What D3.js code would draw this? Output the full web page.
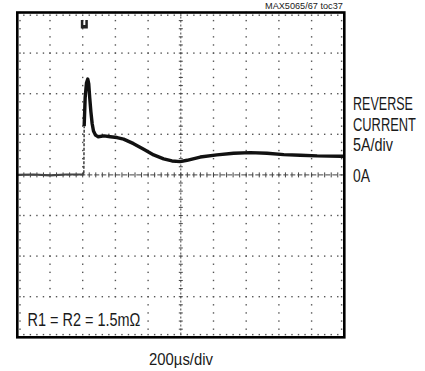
<!DOCTYPE html>
<html>
<head>
<meta charset="utf-8">
<script src="https://cdn.jsdelivr.net/npm/d3@7/dist/d3.min.js"></script>
<style>
  html, body { margin: 0; padding: 0; background: #fff; }
  svg { display: block; }
  text { font-family: "Liberation Sans Narrow", "Liberation Sans", Arial, sans-serif; fill: #1a1a1a; }
</style>
</head>
<body>
<svg id="chart" width="425" height="371"></svg>
<script>
// Reverse-current waveform, 200 µs/div horizontally, 5 A/div vertically
const timeUs   = [0, 100, 200, 300, 400, 407, 409, 415, 423, 431, 437, 443, 450, 458, 466, 478, 495, 530, 569, 610, 650, 711, 773, 834, 895, 946, 997, 1038, 1119, 1221, 1323, 1425, 1527, 1630, 1731, 1834, 1976, 2000];
const currentA = [0, 0.05, -0.05, 0.05, 0.05, 0.2, 6.0, 9.5, 11.3, 11.8, 11.2, 9.5, 7.8, 6.3, 5.4, 4.9, 4.7, 4.8, 4.7, 4.6, 4.4, 3.85, 3.16, 2.46, 1.97, 1.72, 1.64, 1.8, 2.2, 2.46, 2.67, 2.74, 2.67, 2.5, 2.42, 2.34, 2.3, 2.3];

// graticule: 10 horizontal divisions, 8 vertical divisions, 5 minor steps each
const timeDivisions    = d3.range(0, 2001, 200);
const currentDivisions = d3.range(-20, 21, 5);
const timeMinor        = d3.range(0, 2001, 40);
const currentMinor     = d3.range(-20, 20.01, 1);

const channelLabels = ["REVERSE", "CURRENT", "5A/div"];
const zeroLabel     = "0A";
const timebaseLabel = "200\u00b5s/div";
const noteLabel     = "R1 = R2 = 1.5m\u03a9";
const figureTag     = "MAX5065/67 toc37";

const svg = d3.select("#chart");
const x = d3.scaleLinear().domain([0, 2000]).range([17.3, 344.3]);
const y = d3.scaleLinear().domain([-20, 20]).range([337.3, 12.5]);

// condensed text: draw at the given size, then squeeze horizontally to the given width
function narrowText(str, px, py, size, width, fill) {
  const g = svg.append("g").attr("transform", `translate(${px},${py})`);
  const t = g.append("text").attr("font-size", size).text(str);
  if (fill) t.attr("fill", fill);
  const natural = t.node().getComputedTextLength();
  g.attr("transform", `translate(${px},${py}) scale(${width / natural},1)`);
  return t;
}

const grid = svg.append("g").attr("fill", "#555");

// dotted graticule lines (edges and centre lines are drawn separately)
timeDivisions.filter(t => t > 0 && t < 2000 && t !== 1000).forEach(t => {
  currentMinor.forEach(a => {
    grid.append("rect").attr("x", x(t) - 0.7).attr("y", y(a) - 0.7).attr("width", 1.4).attr("height", 1.4);
  });
});
currentDivisions.filter(a => a > -20 && a < 20 && a !== 0).forEach(a => {
  timeMinor.forEach(t => {
    grid.append("rect").attr("x", x(t) - 0.7).attr("y", y(a) - 0.7).attr("width", 1.4).attr("height", 1.4);
  });
});

// centre vertical line with minor ticks
const centre = svg.append("g").attr("stroke", "#444").attr("stroke-width", 1);
centre.append("line")
  .attr("x1", x(1000)).attr("x2", x(1000)).attr("y1", y(20)).attr("y2", y(-20))
  .attr("stroke-dasharray", "2,2");
currentMinor.forEach(a => {
  centre.append("line").attr("x1", x(1000) - 2).attr("x2", x(1000) + 2).attr("y1", y(a)).attr("y2", y(a));
});
// centre horizontal line with minor ticks
centre.append("line")
  .attr("x1", x(0)).attr("x2", x(2000)).attr("y1", y(0)).attr("y2", y(0))
  .attr("stroke-dasharray", "5,2");
timeMinor.forEach(t => {
  centre.append("line").attr("x1", x(t)).attr("x2", x(t)).attr("y1", y(0) - 2.5).attr("y2", y(0) + 2.5);
});

// minor ticks on the frame edges
const edge = svg.append("g").attr("fill", "#555");
timeMinor.forEach(t => {
  edge.append("rect").attr("x", x(t) - 0.7).attr("y", y(20) + 2).attr("width", 1.4).attr("height", 1.4);
  edge.append("rect").attr("x", x(t) - 0.7).attr("y", y(-20) - 3.4).attr("width", 1.4).attr("height", 1.4);
});
currentMinor.forEach(a => {
  edge.append("rect").attr("x", x(0) + 2).attr("y", y(a) - 0.7).attr("width", 1.4).attr("height", 1.4);
  edge.append("rect").attr("x", x(2000) - 3.4).attr("y", y(a) - 0.7).attr("width", 1.4).attr("height", 1.4);
});

// label box in the lower-left corner
svg.append("rect")
  .attr("x", 21).attr("y", 303).attr("width", 124).attr("height", 30).attr("fill", "#fff");
narrowText(noteLabel, 27.5, 326.2, 18.5, 113);

// waveform
const pts = timeUs.map((t, i) => [t, currentA[i]]);
const line = d3.line().x(d => x(d[0])).y(d => y(d[1]));
const riseStart = timeUs.indexOf(407);
const riseEnd = timeUs.indexOf(409);

svg.append("path")
  .attr("d", line(pts.slice(0, riseStart + 1)))
  .attr("fill", "none").attr("stroke", "#444").attr("stroke-width", 2.2);
svg.append("path")
  .attr("d", line(pts.slice(riseStart, riseEnd + 1)))
  .attr("fill", "none").attr("stroke", "#222").attr("stroke-width", 1.3)
  .attr("stroke-dasharray", "3,1.5");
svg.append("path")
  .attr("d", line(pts.slice(riseEnd)))
  .attr("fill", "none").attr("stroke", "#111").attr("stroke-width", 3.4)
  .attr("stroke-linejoin", "round");

// trigger position marker
const tx = x(410), ty = 20;
svg.append("path")
  .attr("d", `M${tx - 3.5},${ty} h2.5 v5 h2 v-5 h2.5 v8.5 h-7 z`)
  .attr("fill", "#222");

// frame
svg.append("rect")
  .attr("x", x(0)).attr("y", y(20))
  .attr("width", x(2000) - x(0)).attr("height", y(-20) - y(20))
  .attr("fill", "none").attr("stroke", "#000").attr("stroke-width", 2.6);

// right-hand channel labels
const widths = [60, 63, 40];
channelLabels.forEach((s, i) => narrowText(s, 353, 110 + i * 20.5, 18, widths[i]));
narrowText(zeroLabel, 353, y(0) + 7.2, 18, 17);

// timebase
narrowText(timebaseLabel, 149, 365, 17, 64);

// figure tag
narrowText(figureTag, 265, 8.5, 8.5, 78, "#444");
</script>
</body>
</html>
